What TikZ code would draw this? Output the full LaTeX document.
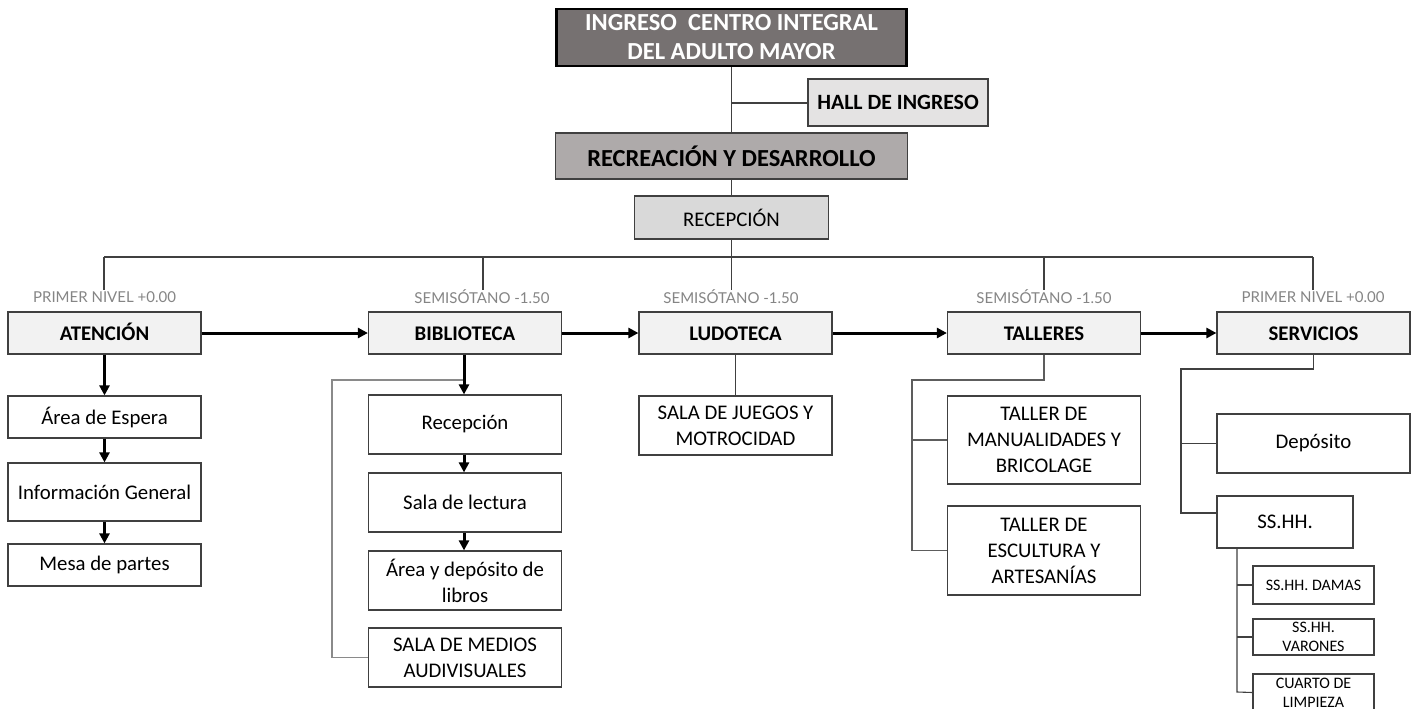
\documentclass[tikz,border=0pt]{standalone}
\usepackage{fontspec}
\setmainfont{Carlito}
\newfontfamily\lblfont{Lato}
\usetikzlibrary{arrows.meta}
\definecolor{topfill}{HTML}{767171}
\definecolor{recrfill}{HTML}{AEAAAA}
\definecolor{hallfill}{HTML}{E4E3E3}
\definecolor{recepfill}{HTML}{D9D9D9}
\definecolor{lvlfill}{HTML}{F2F2F2}
\definecolor{bordc}{HTML}{404040}
\definecolor{lnc}{HTML}{404040}
\definecolor{graylnc}{HTML}{8A8A8A}
\definecolor{lblc}{HTML}{858585}
\begin{document}
\begin{tikzpicture}[x=1pt,y=-1pt,
  box/.style={draw=bordc, line width=1.2pt, inner sep=2pt, align=center, text=black, font=\fontsize{20.8}{26}\selectfont},
  lvl/.style={box, fill=lvlfill, font=\bfseries\fontsize{20.8}{26}\selectfont, minimum width=193pt, minimum height=42pt, text height=17pt, text depth=2pt},
  sub/.style={box, fill=white, minimum width=193pt},
  smallbox/.style={box, fill=white, font=\fontsize{16}{19}\selectfont, minimum width=121pt},
  lbl/.style={font=\lblfont\fontsize{15}{18}\selectfont, text=lblc, inner sep=0pt},
  conn/.style={draw=lnc, line width=1.1pt},
  grayconn/.style={draw=graylnc, line width=1.2pt},
  arr/.style={line width=3pt, -{Triangle[length=10pt,width=10pt]}}
]
\useasboundingbox (0,0) rectangle (1418,709);
\fill[white] (0,0) rectangle (1418,709);

% top part
\node[box, fill=topfill, draw=black, line width=2.8pt, text=white, font=\bfseries\fontsize{24.5}{29}\selectfont, minimum width=350pt, minimum height=57pt] (top) at (731.5,37.5) {INGRESO\ \ CENTRO INTEGRAL\\DEL ADULTO MAYOR};
\node[box, fill=hallfill, font=\bfseries\fontsize{21.8}{26}\selectfont, minimum width=180pt, minimum height=47pt] (hall) at (898,102.5) {HALL DE INGRESO};
\node[box, fill=recrfill, font=\bfseries\fontsize{24.5}{29}\selectfont, minimum width=352pt, minimum height=46pt] (recr) at (731.5,156) {RECREACIÓN Y DESARROLLO};
\node[box, fill=recepfill, minimum width=194pt, minimum height=43pt] (recep) at (731.5,217.5) {RECEPCIÓN};

\draw[conn] (top.south) -- (recr.north);
\coordinate (hj) at (731.5,103);
\draw[conn] (hj) -- (hall.west |- hj);
\draw[conn] (recr.south) -- (recep.north);

% level labels
\node[lbl] (lA) at (104.5,297) {PRIMER NIVEL +0.00};
\node[lbl] (lB) at (482,297) {SEMISÓTANO -1.50};
\node[lbl] (lC) at (731,297) {SEMISÓTANO -1.50};
\node[lbl] (lD) at (1044,297) {SEMISÓTANO -1.50};
\node[lbl] (lE) at (1313,297) {PRIMER NIVEL +0.00};

% bar
\coordinate (barM) at (731.5,257);
\coordinate (barL) at (104,257);
\coordinate (barR) at (1313,257);
\coordinate (eA) at (104,290);
\coordinate (eB) at (483,290);
\coordinate (eC) at (731.5,290);
\coordinate (eD) at (1044,290);
\coordinate (eE) at (1313,290);
\draw[conn] (recep.south) -- (barM);
\draw[conn] (barL) -- (barR);
\draw[conn] (barL) -- (eA);
\draw[conn] (eB |- barL) -- (eB);
\draw[conn] (eC |- barL) -- (eC);
\draw[conn] (eD |- barL) -- (eD);
\draw[conn] (barR) -- (eE);

% level 1
\node[lvl] (aten) at (104.5,333) {ATENCIÓN};
\node[lvl] (bib) at (465,333) {BIBLIOTECA};
\node[lvl] (lud) at (735.5,333) {LUDOTECA};
\node[lvl] (tal) at (1044,333) {TALLERES};
\node[lvl] (ser) at (1313.5,333) {SERVICIOS};

\draw[arr] (aten.east) -- (bib.west);
\draw[arr] (bib.east) -- (lud.west);
\draw[arr] (lud.east) -- (tal.west);
\draw[arr] (tal.east) -- (ser.west);

% atencion
\node[sub, minimum height=42pt] (a1) at (104.5,417) {Área de Espera};
\node[sub, minimum height=58pt] (a2) at (104.5,492) {Información General};
\node[sub, minimum height=42pt] (a3) at (104.5,565) {Mesa de partes};
\draw[arr] (aten.south) -- (a1.north);
\draw[arr] (a1.south) -- (a2.north);
\draw[arr] (a2.south) -- (a3.north);

% biblioteca
\node[sub, minimum height=59pt] (b1) at (465,424.5) {Recepción};
\node[sub, minimum height=59pt] (b2) at (465,502.5) {Sala de lectura};
\node[sub, minimum height=59pt] (b3) at (465,580.5) {Área y depósito de\\libros};
\node[sub, minimum height=59pt] (b4) at (465,657.5) {SALA DE MEDIOS\\AUDIVISUALES};
\coordinate (bj) at (464,380);
\draw[grayconn] (bj) -- (332,380) |- (b4.west);
\draw[arr] (bib.south -| bj) -- (b1.north -| bj);
\draw[arr] (b1.south -| bj) -- (b2.north -| bj);
\draw[arr] (b2.south -| bj) -- (b3.north -| bj);

% ludoteca
\node[sub, minimum height=59pt] (l1) at (735.5,425.5) {SALA DE JUEGOS Y\\MOTROCIDAD};
\draw[conn] (lud.south) -- (l1.north);

% talleres
\node[sub, minimum height=88pt] (t1) at (1044,440) {TALLER DE\\MANUALIDADES Y\\BRICOLAGE};
\node[sub, minimum height=89pt] (t2) at (1044,550.5) {TALLER DE\\ESCULTURA Y\\ARTESANÍAS};
\coordinate (tj) at (912,380);
\draw[conn, draw=lnc!85] (tal.south) |- (tj) |- (t2.west);
\draw[conn, draw=lnc!85] (tj |- t1.west) -- (t1.west);

% servicios
\node[sub, minimum height=59pt] (s1) at (1313.5,443.5) {Depósito};
\node[box, fill=white, minimum width=136pt, minimum height=52pt] (s2) at (1285,522) {SS.HH.};
\coordinate (sj) at (1181,369);
\coordinate (sk) at (1181,513);
\draw[conn] (ser.south) |- (sj) -- (sk) -- (sk -| s2.west);
\draw[conn] (sj |- s1.west) -- (s1.west);

\node[smallbox, minimum height=38pt] (s3) at (1313.5,585) {SS.HH. DAMAS};
\node[smallbox, minimum height=36pt] (s4) at (1313.5,637) {SS.HH.\\VARONES};
\node[smallbox, minimum height=37pt] (s5) at (1313.5,692.5) {CUARTO DE\\LIMPIEZA};
\coordinate (st) at (1237,548);
\coordinate (sb) at (1237,692);
\draw[conn] (st) -- (sb) -- (s5.west);
\draw[conn] (st |- s3.west) -- (s3.west);
\draw[conn] (st |- s4.west) -- (s4.west);
\end{tikzpicture}
\end{document}
